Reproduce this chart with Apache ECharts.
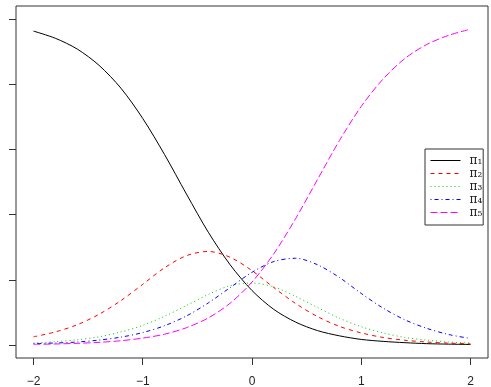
<!DOCTYPE html>
<html>
<head>
<meta charset="utf-8">
<script src="https://cdn.jsdelivr.net/npm/echarts@6/dist/echarts.min.js"></script>
<style>
html,body{margin:0;padding:0;background:#fff;}
#chart{width:491px;height:387px;}
</style>
</head>
<body>
<div id="chart"></div>
<script>
var xs = [-2.0,-1.8,-1.6,-1.4,-1.2,-1.0,-0.8,-0.6,-0.4,-0.2,0,0.2,0.4,0.6,0.8,1.0,1.2,1.4,1.6,1.8,2.0];
var pi1 = [0.963,0.941,0.908,0.858,0.788,0.695,0.584,0.463,0.346,0.246,0.167,0.109,0.070,0.044,0.028,0.017,0.011,0.007,0.004,0.0025,0.0015];
var pi2 = [0.025,0.040,0.062,0.094,0.136,0.186,0.237,0.274,0.287,0.269,0.228,0.176,0.127,0.087,0.057,0.037,0.023,0.0145,0.009,0.0056,0.0034];
var pi3 = [0.006,0.010,0.016,0.025,0.040,0.060,0.088,0.121,0.155,0.182,0.190,0.178,0.149,0.115,0.082,0.056,0.037,0.023,0.015,0.009,0.006];
var pi4 = [0.004,0.006,0.009,0.015,0.024,0.038,0.059,0.089,0.129,0.176,0.223,0.256,0.266,0.246,0.207,0.158,0.113,0.077,0.051,0.032,0.020];
var pi5 = [0.002,0.003,0.005,0.008,0.013,0.021,0.033,0.053,0.083,0.128,0.193,0.280,0.388,0.508,0.627,0.732,0.816,0.879,0.922,0.950,0.969];
var xTicks = [-2,-1,0,1,2];
var yTicks = [0,0.2,0.4,0.6,0.8,1.0];
var names = ['π\u2081','π\u2082','π\u2083','π\u2084','π\u2085'];
var colors = ['#000000','#FF0000','#00CD00','#0000FF','#FF00FF'];
var dashes = ['solid',[4,4],[1,3],[1,3,4,3],[7,3]];
var values = [pi1,pi2,pi3,pi4,pi5];

function pairs(ys){ return xs.map(function(x,i){ return [x, ys[i]]; }); }

var chart = echarts.init(document.getElementById('chart'));
var series = values.map(function(v,i){
  return {
    name: names[i], type: 'line', data: pairs(v), symbol: 'none', smooth: 0.3,
    color: colors[i],
    lineStyle: {color: colors[i], width: 1, type: dashes[i]},
    itemStyle: {color: colors[i]},
    animation: false
  };
});

chart.setOption({
  animation: false,
  backgroundColor: '#fff',
  grid: {left: 16, right: 3, top: 6, bottom: 29, show: true, borderColor: '#333', borderWidth: 1,
    backgroundColor: 'transparent', outerBoundsMode: 'none', containLabel: false},
  xAxis: {
    type: 'value', min: -2.16, max: 2.16,
    splitLine: {show: false},
    axisLine: {show: false, onZero: false},
    axisTick: {show: true, inside: false, length: 7, customValues: xTicks, lineStyle: {color: '#333'}},
    axisLabel: {show: true, customValues: xTicks, margin: 18, color: '#222', fontSize: 12, fontFamily: 'Liberation Sans',
      formatter: function(v){ return (v < 0 ? '\u2212' + Math.abs(v) : String(v)); }}
  },
  yAxis: {
    type: 'value', min: -0.04, max: 1.04,
    splitLine: {show: false},
    axisLine: {show: false, onZero: false},
    axisTick: {show: true, inside: false, length: 7, customValues: yTicks, lineStyle: {color: '#333'}},
    axisLabel: {show: false, customValues: yTicks}
  },
  legend: {
    orient: 'vertical', left: 425, top: 149,
    padding: [5, 1, 6, 5],
    itemGap: 0, itemWidth: 30, itemHeight: 9,
    borderColor: '#333', borderWidth: 1, backgroundColor: '#fff',
    itemStyle: {opacity: 0},
    lineStyle: {width: 1},
    data: names,
    textStyle: {color: '#222', fontSize: 12, lineHeight: 13, fontFamily: 'DejaVu Serif', padding: [0,0,0,4]}
  },
  series: series
});
</script>
</body>
</html>
